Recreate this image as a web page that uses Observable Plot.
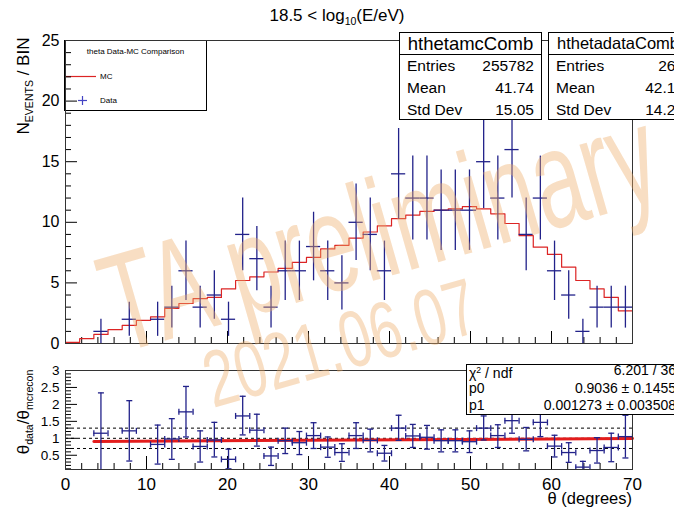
<!DOCTYPE html>
<html><head><meta charset="utf-8">
<script src="https://cdn.jsdelivr.net/npm/d3@7"></script>
<script src="https://cdn.jsdelivr.net/npm/@observablehq/plot@0.6"></script>
<style>
html,body{margin:0;padding:0;background:#fff;overflow:hidden;}
#wrap{position:relative;width:674px;height:508px;overflow:hidden;font-family:"Liberation Sans",Arial,Helvetica,sans-serif;color:#000;}
.sub{font-size:0.62em;vertical-align:-0.38em;}
.sup{font-size:0.62em;vertical-align:0.55em;}
</style></head><body><div id="wrap"></div>
<script>
const FONT = '"Liberation Sans", Arial, Helvetica, sans-serif';

// ---- data ----
const thetaCenters = [0.875, 2.625, 4.375, 6.125, 7.875, 9.625, 11.375, 13.125, 14.875, 16.625,
  18.375, 20.125, 21.875, 23.625, 25.375, 27.125, 28.875, 30.625, 32.375, 34.125,
  35.875, 37.625, 39.375, 41.125, 42.875, 44.625, 46.375, 48.125, 49.875, 51.625,
  53.375, 55.125, 56.875, 58.625, 60.375, 62.125, 63.875, 65.625, 67.375, 69.125];
const binHalfWidth = 0.875;
const dataCounts = [0, 0, 1, 0, 2, 0, 2, 3, 6, 3,
  4, 2, 9, 7, 3, 6, 6, 8, 6, 5,
  10, 9, 6, 14, 12, 12, 11, 11, 11, 15,
  12, 16, 9, 12, 6, 4, 1, 3, 3, 3];
const dataErrors = [0, 0, 1, 0, 1.41, 0, 1.41, 1.73, 2.45, 1.73,
  2, 1.41, 3, 2.65, 1.73, 2.45, 2.45, 2.83, 2.45, 2.24,
  3.16, 3, 2.45, 3.74, 3.46, 3.46, 3.32, 3.32, 3.32, 3.87,
  3.46, 4, 3, 3.46, 2.45, 2, 1, 1.73, 1.73, 1.73];
const mcValues = [0.1, 0.4, 0.75, 1.15, 1.5, 1.9, 2.2, 2.9, 3.3, 3.7,
  3.8, 4.5, 5.2, 5.5, 5.9, 6.2, 6.7, 7.1, 7.8, 8.1,
  8.7, 9.2, 9.7, 10.3, 10.6, 10.9, 11.0, 11.1, 11.3, 11.1,
  10.7, 9.9, 8.9, 7.95, 7.35, 6.3, 5.2, 4.5, 3.8, 2.7];

const ratioTheta = [4.375, 7.875, 11.375, 13.125, 14.875, 16.625, 18.375, 20.125, 21.875, 23.625,
  25.375, 27.125, 28.875, 30.625, 32.375, 34.125, 35.875, 37.625, 39.375, 41.125,
  42.875, 44.625, 46.375, 48.125, 49.875, 51.625, 53.375, 55.125, 56.875, 58.625,
  60.375, 62.125, 63.875, 65.625, 67.375, 69.125];
const ratioValues = [1.15, 1.22, 0.82, 0.98, 1.78, 0.76, 0.95, 0.38, 1.66, 1.24,
  0.48, 0.93, 0.87, 1.08, 0.74, 0.58, 1.08, 0.94, 0.56, 1.3,
  1.07, 1.03, 0.93, 0.93, 0.9, 1.3, 1.08, 1.52, 0.97, 1.47,
  0.77, 0.58, 0.15, 0.64, 0.73, 1.05];
const ratioHigh = [2.34, 2.11, 1.39, 1.58, 2.53, 1.22, 1.47, 0.68, 2.24, 1.71,
  0.74, 1.3, 1.2, 1.46, 1.04, 0.84, 1.46, 1.27, 0.79, 1.68,
  1.41, 1.38, 1.25, 1.25, 1.22, 1.66, 1.4, 1.9, 1.32, 1.86,
  1.09, 0.87, 0.32, 1.02, 1.15, 1.68];
const ratioLow = [0, 0.33, 0.24, 0.38, 1.04, 0.3, 0.45, 0.1, 1.1, 0.77,
  0.2, 0.55, 0.52, 0.7, 0.44, 0.32, 0.7, 0.6, 0.33, 0.94,
  0.73, 0.68, 0.6, 0.6, 0.58, 0.95, 0.73, 1.15, 0.63, 1.05,
  0.45, 0.29, 0, 0.27, 0.31, 0.42];
const fitTheta = [3.5, 70];
const fitValues = [0.908, 0.993];
const refLevels = [0.7, 1, 1.3];

const xMajorTicks = [0, 10, 20, 30, 40, 50, 60, 70];
const xMinorTicks = [2, 4, 6, 8, 12, 14, 16, 18, 22, 24, 26, 28, 32, 34, 36, 38, 42, 44, 46, 48, 52, 54, 56, 58, 62, 64, 66, 68];
const yMainTicks = [0, 5, 10, 15, 20, 25];
const yMainMinor = [1, 2, 3, 4, 6, 7, 8, 9, 11, 12, 13, 14, 16, 17, 18, 19, 21, 22, 23, 24];
const yRatioTicks = [0.5, 1, 1.5, 2, 2.5, 3];
const yRatioMinor = [0.1, 0.2, 0.3, 0.4, 0.6, 0.7, 0.8, 0.9, 1.1, 1.2, 1.3, 1.4, 1.6, 1.7, 1.8, 1.9, 2.1, 2.2, 2.3, 2.4, 2.6, 2.7, 2.8, 2.9];

const titleText = '18.5 &lt; log<span class="sub">10</span>(E/eV)';
const mcStats = {name: "hthetamcComb", rows: [["Entries", "255782"], ["Mean", "41.74"], ["Std Dev", "15.05"]]};
const dataStats = {name: "hthetadataComb", rows: [["Entries", "265"], ["Mean", "42.13"], ["Std Dev", "14.25"]]};
const fitRows = [['χ<span class="sup">2</span> / ndf', "6.201 / 36"], ["p0", "0.9036 ± 0.1455"], ["p1", "0.001273 ± 0.003508"]];

// ---- build ----
const navy = "#22228a";
const red = "#dc2424";
const wrap = document.getElementById("wrap");

const dataPts = thetaCenters.map((t, i) => ({t, n: dataCounts[i], e: dataErrors[i]})).filter(d => d.n > 0);
const mcSteps = thetaCenters.map((t, i) => ({x: t - binHalfWidth, y: mcValues[i]}));
mcSteps.push({x: thetaCenters[thetaCenters.length - 1] + binHalfWidth, y: mcValues[mcValues.length - 1]});
const ratioPts = ratioTheta.map((t, i) => ({t, v: ratioValues[i], hi: ratioHigh[i], lo: ratioLow[i]}));
const fitPts = fitTheta.map((t, i) => ({t, v: fitValues[i]}));

const hCap = {draw(ctx, size) { const r = Math.sqrt(size / Math.PI); ctx.moveTo(-r, 0); ctx.lineTo(r, 0); }};
const vCap = {draw(ctx, size) { const r = Math.sqrt(size / Math.PI); ctx.moveTo(0, -r); ctx.lineTo(0, r); }};

function place(el, left, top, z) {
  el.style.position = "absolute"; el.style.left = left + "px"; el.style.top = top + "px"; el.style.zIndex = z;
  wrap.appendChild(el); return el;
}

// legend (beneath the transparent top svg)
const legend = document.createElement("div");
legend.style.cssText = `width:143px;height:71px;box-sizing:border-box;border:1px solid #000;background:#fff;font-family:${FONT};font-size:8px;`;
legend.innerHTML = `
<div style="position:absolute;left:0;width:141px;top:6px;text-align:center;">theta Data-MC Comparison</div>
<svg width="141" height="69" style="position:absolute;left:0;top:0;overflow:visible">
  <line x1="0" x2="31" y1="35.5" y2="35.5" stroke="${red}" stroke-width="1.2"/>
  <line x1="13" x2="22" y1="59.5" y2="59.5" stroke="#4444c4" stroke-width="1.2"/>
  <line x1="17.5" x2="17.5" y1="55" y2="64" stroke="#4444c4" stroke-width="1.2"/>
</svg>
<div style="position:absolute;left:35px;top:30.5px;">MC</div>
<div style="position:absolute;left:35px;top:54.5px;">Data</div>`;
place(legend, 64, 40, 1);

// top panel
const topPlot = Plot.plot({
  width: 674, height: 360,
  marginLeft: 65, marginRight: 42, marginTop: 40, marginBottom: 17,
  style: {background: "transparent", fontFamily: FONT, overflow: "visible"},
  x: {domain: [0, 70], axis: null},
  y: {domain: [0, 25]},
  marks: [
    Plot.axisY(yMainTicks, {anchor: "left", tickSize: 0, tickPadding: 6, fontSize: 16, tickFormat: d => String(d), label: null}),
    Plot.tickX(xMajorTicks, {x: d => d, insetTop: 291, stroke: "#000"}),
    Plot.tickX(xMinorTicks, {x: d => d, insetTop: 297, stroke: "#000"}),
    Plot.tickY(yMainTicks, {y: d => d, insetRight: 555, stroke: "#000"}),
    Plot.tickY(yMainMinor, {y: d => d, insetRight: 561, stroke: "#000"}),
    Plot.line(mcSteps, {x: "x", y: "y", curve: "step-after", stroke: red, strokeWidth: 1.2}),
    Plot.ruleX(dataPts, {x: "t", y1: d => d.n - d.e, y2: d => d.n + d.e, stroke: navy, strokeWidth: 1.3}),
    Plot.ruleY(dataPts, {y: "n", x1: d => d.t - binHalfWidth, x2: d => d.t + binHalfWidth, stroke: navy, strokeWidth: 1.3}),
    Plot.frame({stroke: "#333"})
  ]
});
const topDiv = document.createElement("div"); topDiv.appendChild(topPlot);
place(topDiv, 0, 0, 2);

// bottom (ratio) panel
const botPlot = Plot.plot({
  width: 674, height: 148,
  marginLeft: 65, marginRight: 42, marginTop: 10, marginBottom: 39,
  style: {background: "transparent", fontFamily: FONT, overflow: "visible"},
  x: {domain: [0, 70]},
  y: {domain: [0.08, 3]},
  marks: [
    Plot.axisX(xMajorTicks, {anchor: "bottom", tickSize: 0, tickPadding: 8, fontSize: 17, tickFormat: d => String(d), label: null}),
    Plot.axisY(yRatioTicks, {anchor: "left", tickSize: 0, tickPadding: 6, fontSize: 13.5, tickFormat: d => String(d), label: null}),
    Plot.tickX(xMajorTicks, {x: d => d, insetTop: 86, stroke: "#000"}),
    Plot.tickX(xMinorTicks, {x: d => d, insetTop: 93, stroke: "#000"}),
    Plot.tickY(yRatioTicks, {y: d => d, insetRight: 555, stroke: "#000"}),
    Plot.tickY(yRatioMinor, {y: d => d, insetRight: 561, stroke: "#000"}),
    Plot.ruleY(refLevels, {y: d => d, stroke: "#000", strokeDasharray: "3,3", strokeWidth: 1}),
    Plot.line(fitPts, {x: "t", y: "v", stroke: "#e31c1c", strokeWidth: 3}),
    Plot.ruleX(ratioPts, {x: "t", y1: "lo", y2: "hi", stroke: navy, strokeWidth: 1.3, clip: true}),
    Plot.ruleY(ratioPts, {y: "v", x1: d => d.t - binHalfWidth, x2: d => d.t + binHalfWidth, stroke: navy, strokeWidth: 1.3, clip: true}),
    Plot.dot(ratioPts, {x: "t", y: "hi", symbol: hCap, r: 3, stroke: navy, strokeWidth: 1.3, fill: "none", clip: true}),
    Plot.dot(ratioPts, {x: "t", y: "lo", symbol: hCap, r: 3, stroke: navy, strokeWidth: 1.3, fill: "none", clip: true}),
    Plot.dot(ratioPts, {x: d => d.t - binHalfWidth, y: "v", symbol: vCap, r: 3, stroke: navy, strokeWidth: 1.3, fill: "none", clip: true}),
    Plot.dot(ratioPts, {x: d => d.t + binHalfWidth, y: "v", symbol: vCap, r: 3, stroke: navy, strokeWidth: 1.3, fill: "none", clip: true}),
    Plot.frame({stroke: "#333"})
  ]
});
const botDiv = document.createElement("div"); botDiv.appendChild(botPlot);
place(botDiv, 0, 360, 2);

// stat boxes
function statBox(left, width, valueRight, titleSize, stats) {
  const box = document.createElement("div");
  box.style.cssText = `width:${width}px;font-family:${FONT};background:transparent;`;
  let html = `<div style="box-sizing:border-box;height:23px;border:1px solid #000;background:#fff;text-align:center;font-size:${titleSize}px;line-height:21px;white-space:nowrap;">${stats.name}</div>`;
  html += `<div style="box-sizing:border-box;height:65px;border:1px solid #000;border-top:none;background:#fff;font-size:15.5px;">`;
  stats.rows.forEach(([k, v]) => {
    html += `<div style="position:relative;height:22px;line-height:22px;white-space:nowrap;"><span style="position:absolute;left:7px;">${k}</span><span style="position:absolute;right:${valueRight}px;">${v}</span></div>`;
  });
  html += `</div>`;
  box.innerHTML = html;
  place(box, left, 32, 3);
}
statBox(399, 143, 7, 18.5, mcStats);
statBox(548, 140, 3, 16.5, dataStats);

const fitBox = document.createElement("div");
fitBox.style.cssText = `box-sizing:border-box;width:224px;height:51px;border:1px solid #000;background:#fff;font-family:${FONT};font-size:14px;`;
fitBox.innerHTML = fitRows.map(([k, v], i) =>
  `<div style="position:absolute;left:0;right:0;top:${-3 + i * 17.5}px;height:17px;line-height:17px;white-space:nowrap;"><span style="position:absolute;left:2px;">${k}</span><span style="position:absolute;right:13px;">${v}</span></div>`).join("");
place(fitBox, 466, 364, 3);

// texts
const title = document.createElement("div");
title.style.cssText = `font-size:17px;white-space:nowrap;transform:translate(-50%,-50%);font-family:${FONT};`;
title.innerHTML = titleText;
place(title, 337, 16, 5);

const yLab1 = document.createElement("div");
yLab1.style.cssText = `font-size:17px;white-space:nowrap;transform:translate(-50%,-50%) rotate(-90deg);font-family:${FONT};`;
yLab1.innerHTML = 'N<span class="sub">EVENTS</span> / BIN';
place(yLab1, 24, 86, 5);

const yLab2 = document.createElement("div");
yLab2.style.cssText = `font-size:17px;white-space:nowrap;transform:translate(-50%,-50%) rotate(-90deg);font-family:${FONT};`;
yLab2.innerHTML = 'θ<span class="sub">data</span>/θ<span class="sub">mcrecon</span>';
place(yLab2, 24, 412, 5);

const xLab = document.createElement("div");
xLab.style.cssText = `font-size:16.5px;white-space:nowrap;transform:translate(-100%,-50%);font-family:${FONT};`;
xLab.textContent = "θ (degrees)";
place(xLab, 632, 498, 5);

// watermark
const wm = document.createElement("div");
wm.innerHTML = `<svg width="674" height="508" style="display:block;pointer-events:none">
<g fill="rgb(238,172,105)" fill-opacity="0.4" font-family='${FONT}'>
<text transform="translate(118,354) rotate(-16) scale(0.645,1)" font-size="140">TA preliminary</text>
<text transform="translate(213,408) rotate(-16) scale(0.7,1)" font-size="80">2021.06.07</text>
</g></svg>`;
place(wm, 0, 0, 4);
</script></body></html>
